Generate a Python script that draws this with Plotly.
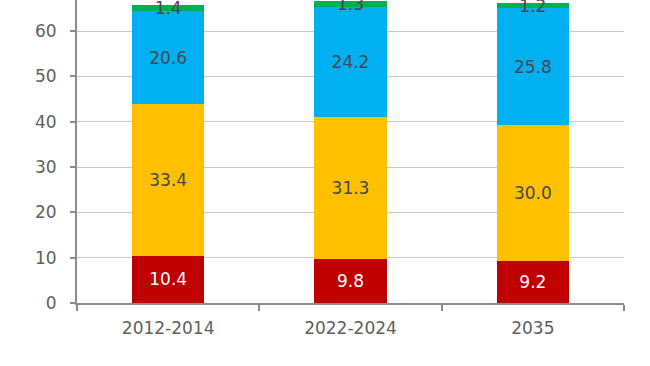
import plotly.graph_objects as go

categories = ["2012-2014", "2022-2024", "2035"]
red_vals = [10.4, 9.8, 9.2]
yellow_vals = [33.4, 31.3, 30.0]
blue_vals = [20.6, 24.2, 25.8]
green_vals = [1.4, 1.3, 1.2]
y_ticks = [0, 10, 20, 30, 40, 50, 60]

FONT = "DejaVu Sans"
series = [
    (red_vals, "#C00000", "white"),
    (yellow_vals, "#FFC000", "#434856"),
    (blue_vals, "#00B0F0", "#434856"),
    (green_vals, "#00B050", "#434856"),
]

fig = go.Figure()
for vals, col, tcol in series:
    fig.add_trace(go.Bar(
        x=categories, y=vals,
        marker=dict(color=col, line=dict(width=0)),
        texttemplate="%{y:.1f}", textposition="inside", insidetextanchor="middle",
        constraintext="none", textangle=0,
        textfont=dict(family=FONT, size=17, color=tcol),
        width=0.395,
        hoverinfo="skip",
    ))

fig.update_layout(
    barmode="stack",
    width=650, height=366,
    margin=dict(l=77, r=26, t=0, b=63),
    paper_bgcolor="white", plot_bgcolor="white",
    showlegend=False,
    font=dict(family=FONT, size=17, color="#606060"),
)
fig.update_xaxes(
    showline=True, linecolor="#8c8c8c", linewidth=2,
    ticks="outside", tickson="boundaries", ticklen=6, tickcolor="#8c8c8c", tickwidth=2,
    tickfont=dict(family=FONT, size=17, color="#606060"),
    showgrid=False, ticklabelstandoff=9,
)
fig.update_yaxes(
    range=[0, 66.84], tickvals=y_ticks,
    showline=True, linecolor="#8c8c8c", linewidth=2,
    ticks="outside", ticklen=5, tickcolor="#8c8c8c", tickwidth=2,
    showgrid=True, gridcolor="#c8c8c8", gridwidth=1,
    zeroline=False,
    tickfont=dict(family=FONT, size=17, color="#606060"),
    ticklabelstandoff=10,
)

fig.write_html("out.html", config={"displayModeBar": False},
               post_script="document.body.style.margin='0';document.body.style.overflow='hidden';")
